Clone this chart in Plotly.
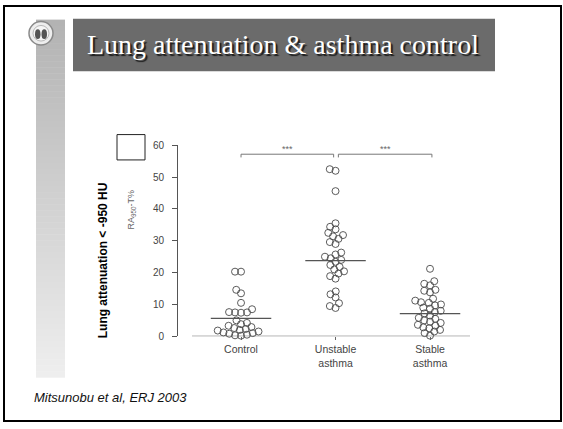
import math
import plotly.graph_objects as go

W, H = 563, 429

# ---------------- data ----------------
categories = ["Control", "Unstable<br>asthma", "Stable<br>asthma"]
control = [20.3, 20.3, 14.6, 13.5, 10.5, 8.5, 7.6, 7.5, 7.5, 7.4, 5.0, 4.2, 3.8,
           3.3, 2.9, 2.6, 2.3, 2.0, 1.8, 1.5, 1.2, 1.0, 0.8, 0.5, 0.3, 0.2]
unstable = [52.5, 52.0, 45.6, 35.5, 34.4, 33.6, 32.5, 31.8, 31.4, 30.6, 29.6, 29.0,
            26.3, 25.7, 25.0, 24.5, 24.0, 23.4, 22.4, 21.8, 21.0, 20.4, 19.7, 18.9,
            18.1, 14.1, 13.2, 12.2, 10.4, 9.5, 8.9]
stable = [21.2, 17.3, 16.5, 16.0, 14.6, 14.3, 13.8, 11.8, 11.2, 10.7, 10.5, 10.0,
          9.7, 9.0, 8.7, 8.0, 7.6, 7.2, 6.5, 5.8, 5.5, 5.0, 4.6, 4.2, 3.6, 3.3,
          2.8, 2.5, 2.0, 1.5, 1.0, 0.2]
group_lines = [5.6, 23.8, 7.1]
y_ticks = [0, 10, 20, 30, 40, 50, 60]
sig_labels = ["***", "***"]
sig_level = 57.2

title_text = "Lung attenuation &amp; asthma control"
ylabel_bold = "Lung attenuation &lt; -950 HU"
ylabel_small = "RA<sub>950</sub>-T%"
citation = "Mitsunobu et al, ERJ 2003"

# ---------------- layout helpers ----------------
def px(x):
    return x / W

def py(y):
    return 1 - y / H

X0_PX, X1_PX = 178, 470
Y0_PX, Y1_PX = 340, 144
X_RANGE = [-0.667, 2.423]
Y_RANGE = [0, 60]
XS = (X1_PX - X0_PX) / (X_RANGE[1] - X_RANGE[0])  # px per unit x
YS = (Y0_PX - Y1_PX) / (Y_RANGE[1] - Y_RANGE[0])  # px per unit y


def swarm(values, d=6.0):
    placed = []
    out_v, out_x = [], []
    for v in sorted(values):
        y = v * YS
        forb = []
        cands = [0.0]
        for xj, yj in placed:
            dy = y - yj
            if abs(dy) < d:
                dx = math.sqrt(d * d - dy * dy)
                forb.append((xj - dx, xj + dx))
                cands += [xj - dx, xj + dx]
        cands.sort(key=lambda c: (abs(c), c))
        chosen = 0.0
        for c in cands:
            if all(not (a + 1e-6 < c < b - 1e-6) for a, b in forb):
                chosen = c
                break
        placed.append((chosen, y))
        out_v.append(v)
        out_x.append(chosen / XS)
    return out_v, out_x


FONT = "Liberation Sans, Arial, sans-serif"
fig = go.Figure()

groups = [control, unstable, stable]
for i, vals in enumerate(groups):
    vs, offs = swarm(vals)
    fig.add_trace(go.Scatter(
        x=[i + o for o in offs], y=vs, mode="markers",
        marker=dict(symbol="circle-open", size=7, color="#4a4a4a",
                    line=dict(width=0.9, color="#4a4a4a")),
        cliponaxis=False, showlegend=False, hoverinfo="skip"))

shapes = []
# slide border
shapes.append(dict(type="rect", xref="paper", yref="paper",
                   x0=px(4), x1=px(561), y0=py(1), y1=py(427),
                   line=dict(color="black", width=2), layer="below"))
# gradient side bar
top, bot = 15, 382
nb = 60
for k in range(nb):
    ya = top + (bot - top) * k / nb
    yb = top + (bot - top) * (k + 1) / nb + 0.5
    t = k / (nb - 1)
    g = int(round(0xb3 + (0xee - 0xb3) * t))
    col = f"rgb({g},{g},{g})"
    shapes.append(dict(type="rect", xref="paper", yref="paper",
                       x0=px(36), x1=px(65), y0=py(ya), y1=py(yb),
                       fillcolor=col, line=dict(width=0), layer="below"))
# title box
shapes.append(dict(type="rect", xref="paper", yref="paper",
                   x0=px(73), x1=px(495), y0=py(14), y1=py(68),
                   fillcolor="#6b6b6b", line=dict(width=0), layer="below"))
# logo
shapes.append(dict(type="circle", xref="paper", yref="paper",
                   x0=px(29), x1=px(53), y0=py(17), y1=py(41),
                   fillcolor="#eeeeee", line=dict(color="#8a8a8a", width=1.5)))
shapes.append(dict(type="circle", xref="paper", yref="paper",
                   x0=px(33), x1=px(49), y0=py(21), y1=py(37),
                   fillcolor="#f6f6f6", line=dict(color="#aaaaaa", width=0.8)))
shapes.append(dict(type="circle", xref="paper", yref="paper",
                   x0=px(35), x1=px(40.5), y0=py(25), y1=py(35),
                   fillcolor="#555555", line=dict(width=0)))
shapes.append(dict(type="circle", xref="paper", yref="paper",
                   x0=px(41.5), x1=px(47), y0=py(25), y1=py(35),
                   fillcolor="#555555", line=dict(width=0)))
# empty box
shapes.append(dict(type="rect", xref="paper", yref="paper",
                   x0=px(117), x1=px(145), y0=py(133), y1=py(159),
                   line=dict(color="#222", width=1)))
# x baseline
shapes.append(dict(type="line", xref="x", yref="y",
                   x0=(192 - 241) / XS, x1=X_RANGE[1], y0=0, y1=0,
                   line=dict(color="#555", width=1)))
# group lines
HW = 0.32
for i, m in enumerate(group_lines):
    shapes.append(dict(type="line", xref="x", yref="y",
                       x0=i - HW, x1=i + HW, y0=m, y1=m,
                       line=dict(color="#555", width=1.2)))
# significance brackets
tick_d = 1.0
brackets = [(0, 0.98), (1.03, 2.02)]
for (a, b) in brackets:
    shapes.append(dict(type="path", xref="x", yref="y",
                       path=f"M {a},{sig_level - tick_d} L {a},{sig_level} L {b},{sig_level} L {b},{sig_level - tick_d}",
                       line=dict(color="#777", width=1)))

annotations = []
# title (with text shadow)
annotations.append(dict(text=title_text, xref="paper", yref="paper",
                        x=px(283), y=py(41), xanchor="center", yanchor="middle",
                        showarrow=False,
                        font=dict(family="Liberation Serif, Times New Roman, serif",
                                  size=28, color="white",
                                  shadow="2px 2px 1px #1c1c1c")))
# stars
for (a, b), s in zip(brackets, sig_labels):
    annotations.append(dict(text=s, xref="x", yref="y", x=(a + b) / 2, y=sig_level,
                            yanchor="bottom", xanchor="center", showarrow=False, yshift=-2,
                            font=dict(family=FONT, size=9, color="#666")))
# y labels
annotations.append(dict(text=ylabel_bold, xref="paper", yref="paper",
                        x=px(103), y=py(262), textangle=-90, showarrow=False,
                        xanchor="center", yanchor="middle",
                        font=dict(family=FONT, size=12, color="black", weight="bold")))
annotations.append(dict(text=ylabel_small, xref="paper", yref="paper",
                        x=px(132), y=py(210), textangle=-90, showarrow=False,
                        xanchor="center", yanchor="middle",
                        font=dict(family=FONT, size=9, color="#666")))
# citation
annotations.append(dict(text=f"<i>{citation}</i>", xref="paper", yref="paper",
                        x=px(32), y=py(403), xanchor="left", yanchor="middle",
                        showarrow=False, font=dict(family=FONT, size=13, color="#111")))

fig.update_layout(
    width=W, height=H,
    margin=dict(l=0, r=0, t=0, b=0),
    paper_bgcolor="white", plot_bgcolor="rgba(0,0,0,0)",
    showlegend=False,
    xaxis=dict(domain=[px(X0_PX), px(X1_PX)], range=X_RANGE,
               tickvals=[0, 1, 2], ticktext=categories,
               showgrid=False, zeroline=False, showline=False,
               ticks="outside", ticklen=3, tickcolor="#666",
               tickfont=dict(family=FONT, size=10.5, color="#444")),
    yaxis=dict(domain=[py(Y0_PX), py(Y1_PX)], range=Y_RANGE,
               tickvals=y_ticks, showgrid=False, zeroline=False,
               showline=True, linecolor="#555", linewidth=1,
               ticks="outside", ticklen=5, tickcolor="#555",
               ticklabelstandoff=6,
               tickfont=dict(family=FONT, size=10, color="#444")),
    shapes=shapes, annotations=annotations,
)

fig.write_html("out.html")
